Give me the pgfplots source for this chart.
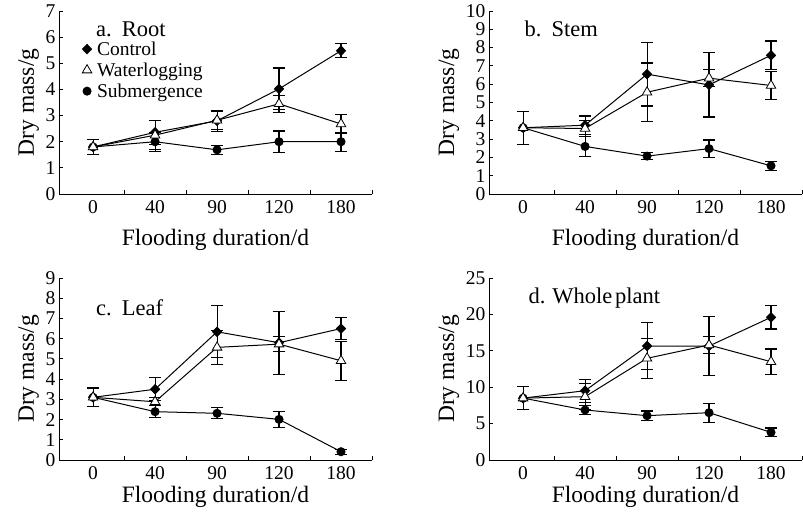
\documentclass[border=0pt]{standalone}
\usepackage{fontspec}
\setmainfont{Liberation Serif}
\usepackage{pgfplots}
\pgfplotsset{compat=1.18}

\pgfplotsset{
  flood/.style={
    scale only axis, width=313pt,
    xmin=-0.55, xmax=4.5,
    axis x line*=bottom, axis y line*=left,
    axis line style={-, line width=1pt},
    xtick={0.5,1.5,2.5,3.5,4.5}, xticklabels={},
    extra x ticks={0,1,2,3,4},
    extra x tick labels={0,40,90,120,180},
    extra x tick style={major tick length=0pt},
    tick align=inside, major tick length=4pt,
    tick style={line width=1pt, black},
    ticklabel style={font=\fontsize{19.5}{21}\selectfont},
    xticklabel style={yshift=-3pt},
    /pgf/number format/assume math mode=true,
    xlabel={Flooding duration/d}, ylabel={Dry mass/g},
    label style={font=\fontsize{23.5}{26}\selectfont},
    clip=false,
    error bars/y dir=both, error bars/y explicit,
    error bars/error bar style={line width=1.1pt, black},
    error bars/error mark options={rotate=90, mark size=6pt, line width=1.1pt, black},
  },
  ctrl/.style={black, line width=1pt, mark=diamond*, mark size=4.6pt,
    mark options={solid, fill=black, xscale=1.3}},
  wl/.style={black, line width=1pt, mark=triangle*, mark size=5.5pt,
    mark options={solid, fill=white, line width=0.8pt}},
  sub/.style={black, line width=1pt, mark=*, mark size=4pt,
    mark options={solid, fill=black}},
}
\tikzset{ttl/.style={anchor=west, inner sep=0pt, xshift=17pt, font=\fontsize{22.5}{24}\selectfont}}

\begin{document}
\begin{tikzpicture}
\path[use as bounding box] (0pt,0pt) rectangle (803pt,-515pt);

% a. Root
\begin{axis}[flood, at={(59pt,-194pt)}, anchor=south west, height=183pt,
  ymin=0, ymax=7, ytick={0,1,...,7}, xlabel style={yshift=-9pt},
  legend style={draw=none, fill=none, at={(axis description cs:0.073,0.845)}, anchor=north west,
    font=\fontsize{19.5}{21}\selectfont, row sep=2pt, inner sep=0pt},
  legend cell align=left,
  legend image code/.code={\draw[#1] plot coordinates {(5pt,0pt)}; \path[draw=none] (0pt,0pt) -- (13pt,0pt);}]
\addlegendimage{ctrl, only marks}
\addlegendimage{wl, only marks}
\addlegendimage{sub, only marks}
\legend{Control, Waterlogging, Submergence}
\addplot[ctrl, forget plot] coordinates {(0,1.8)+-(0,0.3) (1,2.36)+-(0,0.45) (2,2.8)+-(0,0.4) (3,4.02)+-(0,0.8) (4,5.48)+-(0,0.27)};
\addplot[sub, forget plot] coordinates {(0,1.8)+-(0,0.3) (1,2.0)+-(0,0.37) (2,1.69)+-(0,0.17) (3,2.0)+-(0,0.41) (4,2.0)+-(0,0.37)};
\addplot[wl, forget plot] coordinates {(0,1.8)+-(0,0.3) (1,2.25)+-(0,0.55) (2,2.82)+-(0,0.35) (3,3.45)+-(0,0.33) (4,2.68)+-(0,0.36)};
\node[ttl] at (axis description cs:0.064,0.90) {a.\hspace{0.45em}Root};
\end{axis}

% b. Stem
\begin{axis}[flood, at={(489pt,-194pt)}, anchor=south west, height=183pt,
  ymin=0, ymax=10, ytick={0,1,...,10}, xlabel style={yshift=-9pt}]
\addplot[ctrl] coordinates {(0,3.62)+-(0,0.9) (1,3.76)+-(0,0.5) (2,6.55)+-(0,1.74) (3,5.96)+-(0,1.75) (4,7.58)+-(0,0.78)};
\addplot[sub] coordinates {(0,3.62)+-(0,0.9) (1,2.6)+-(0,0.53) (2,2.07)+-(0,0.2) (3,2.48)+-(0,0.47) (4,1.54)+-(0,0.24)};
\addplot[wl] coordinates {(0,3.62)+-(0,0.9) (1,3.58)+-(0,0.46) (2,5.56)+-(0,1.6) (3,6.33)+-(0,0.47) (4,5.93)+-(0,0.75)};
\node[ttl] at (axis description cs:0.059,0.90) {b.\hspace{0.45em}Stem};
\end{axis}

% c. Leaf
\begin{axis}[flood, at={(59pt,-460pt)}, anchor=south west, height=182pt,
  ymin=0, ymax=9, ytick={0,1,...,9}]
\addplot[ctrl] coordinates {(0,3.1)+-(0,0.46) (1,3.5)+-(0,0.57) (2,6.34)+-(0,1.29) (3,5.8)+-(0,1.56) (4,6.5)+-(0,0.53)};
\addplot[sub] coordinates {(0,3.1)+-(0,0.46) (1,2.39)+-(0,0.3) (2,2.31)+-(0,0.27) (3,2.01)+-(0,0.41) (4,0.41)+-(0,0.13)};
\addplot[wl] coordinates {(0,3.1)+-(0,0.46) (1,2.88)+-(0,0.2) (2,5.57)+-(0,0.83) (3,5.73)+-(0,0.38) (4,4.91)+-(0,0.97)};
\node[ttl] at (axis description cs:0.064,0.835) {c.\hspace{0.45em}Leaf};
\end{axis}

% d. Whole plant
\begin{axis}[flood, at={(489pt,-460pt)}, anchor=south west, height=182pt,
  ymin=0, ymax=25, ytick={0,5,...,25}]
\addplot[ctrl] coordinates {(0,8.5)+-(0,1.6) (1,9.52)+-(0,1.56) (2,15.66)+-(0,3.25) (3,15.66)+-(0,4.1) (4,19.6)+-(0,1.6)};
\addplot[sub] coordinates {(0,8.5)+-(0,1.6) (1,6.87)+-(0,0.6) (2,6.09)+-(0,0.64) (3,6.5)+-(0,1.3) (4,3.8)+-(0,0.6)};
\addplot[wl] coordinates {(0,8.5)+-(0,1.6) (1,8.7)+-(0,1.8) (2,13.97)+-(0,2.75) (3,15.8)+-(0,1.15) (4,13.5)+-(0,1.75)};
\node[ttl] at (axis description cs:0.072,0.89) {d.\hspace{0.3em}Whole\hspace{0.12em}plant};
\end{axis}
\end{tikzpicture}
\end{document}
